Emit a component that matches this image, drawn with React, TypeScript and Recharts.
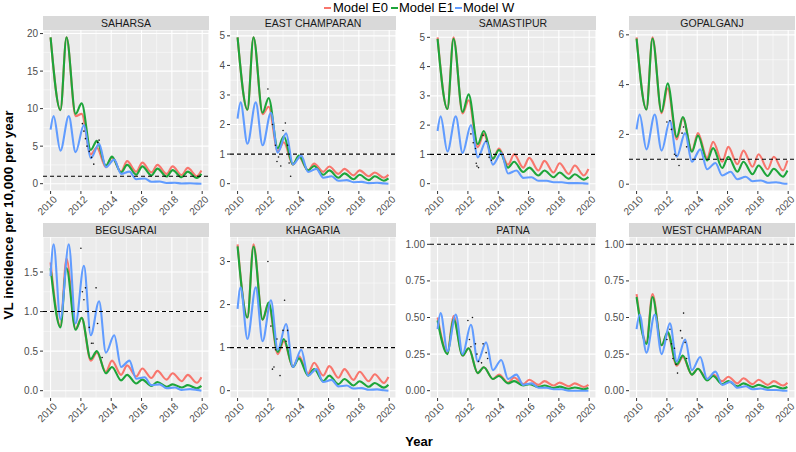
import React from 'react';
import { ComposedChart, Line, XAxis, YAxis, CartesianGrid, ReferenceLine } from 'recharts';

// sample times: E models peak early in the year, W a bit later; all dip mid-year
const E_TIMES = [2010.0, 2010.65, 2011.05, 2011.65, 2012.05, 2012.65, 2013.05, 2013.65, 2014.05, 2014.65, 2015.05, 2015.65, 2016.05, 2016.65, 2017.05, 2017.65, 2018.05, 2018.65, 2019.05, 2019.65, 2019.95];
const W_TIMES = [2010.0, 2010.2, 2010.65, 2011.2, 2011.65, 2012.2, 2012.65, 2013.2, 2013.65, 2014.2, 2014.65, 2015.2, 2015.65, 2016.2, 2016.65, 2017.2, 2017.65, 2018.2, 2018.65, 2019.2, 2019.65, 2019.95];
const YEAR_TICKS = [2010, 2012, 2014, 2016, 2018, 2020];
const YEAR_MINOR = [2011, 2013, 2015, 2017, 2019];

const SAHARSA_E0 = [19.5, 9.8, 19.5, 9.0, 9.3, 3.9, 4.8, 2.2, 3.5, 1.6, 3.0, 1.6, 2.8, 1.5, 2.5, 1.3, 2.3, 1.15, 2.1, 1.0, 1.75];
const SAHARSA_E1 = [19.5, 9.8, 19.5, 9.3, 10.7, 4.5, 5.7, 2.4, 3.6, 1.5, 2.5, 1.2, 2.3, 1.1, 2.0, 0.95, 1.8, 0.85, 1.6, 0.75, 1.3];
const SAHARSA_W = [7.2, 9.0, 4.4, 9.0, 4.2, 7.8, 3.4, 5.3, 2.2, 3.2, 1.3, 1.6, 0.6, 0.7, 0.25, 0.3, 0.1, 0.12, 0.03, 0.05, 0.01, 0.0];
const SAHARSA_OBS = [[2012.1, 8.0], [2012.2, 7.0], [2012.3, 6.0], [2012.4, 5.0], [2012.55, 4.3], [2012.7, 3.5], [2012.85, 2.6], [2013.1, 5.5], [2013.2, 5.8]];

const EAST_E0 = [4.95, 2.5, 4.95, 2.35, 2.6, 1.1, 1.4, 0.65, 0.9, 0.45, 0.68, 0.4, 0.58, 0.33, 0.5, 0.28, 0.45, 0.25, 0.38, 0.2, 0.3];
const EAST_E1 = [4.95, 2.5, 4.95, 2.4, 2.9, 1.2, 1.6, 0.65, 0.95, 0.45, 0.6, 0.3, 0.45, 0.2, 0.35, 0.15, 0.3, 0.12, 0.25, 0.1, 0.18];
const EAST_W = [2.2, 2.75, 1.35, 2.75, 1.3, 2.4, 1.05, 1.7, 0.65, 0.95, 0.4, 0.5, 0.2, 0.25, 0.1, 0.12, 0.05, 0.06, 0.02, 0.03, 0.01, 0.0];
const EAST_OBS = [[2012.0, 3.2], [2012.3, 2.0], [2012.5, 1.3], [2012.6, 0.75], [2012.7, 0.9], [2012.85, 0.6], [2013.0, 1.8], [2013.15, 2.05], [2013.3, 1.3], [2013.4, 0.7], [2013.5, 0.25]];

const SAMA_E0 = [5.0, 2.55, 5.0, 2.4, 2.85, 1.25, 1.7, 0.85, 1.2, 0.65, 1.0, 0.55, 0.88, 0.45, 0.78, 0.38, 0.7, 0.33, 0.62, 0.28, 0.5];
const SAMA_E1 = [4.95, 2.55, 4.95, 2.45, 3.05, 1.35, 1.8, 0.85, 1.15, 0.55, 0.75, 0.4, 0.55, 0.28, 0.45, 0.22, 0.38, 0.17, 0.32, 0.14, 0.23];
const SAMA_W = [1.8, 2.3, 1.1, 2.3, 1.05, 2.0, 0.9, 1.45, 0.65, 1.05, 0.35, 0.45, 0.2, 0.22, 0.1, 0.1, 0.05, 0.05, 0.02, 0.02, 0.01, 0.0];
const SAMA_OBS = [[2012.2, 1.7], [2012.35, 1.4], [2012.5, 1.2], [2012.55, 0.7], [2012.6, 0.6], [2012.7, 0.55], [2013.0, 1.65], [2013.2, 1.45], [2013.4, 0.9], [2013.55, 0.8]];

const GOPAL_E0 = [5.9, 3.0, 5.9, 2.85, 3.85, 1.8, 2.65, 1.35, 2.05, 1.05, 1.7, 0.9, 1.5, 0.8, 1.35, 0.7, 1.2, 0.6, 1.1, 0.55, 0.95];
const GOPAL_E1 = [5.85, 3.0, 5.85, 2.9, 4.05, 1.9, 2.7, 1.3, 1.95, 0.95, 1.45, 0.65, 1.1, 0.5, 0.9, 0.4, 0.75, 0.33, 0.62, 0.3, 0.55];
const GOPAL_W = [2.2, 2.8, 1.4, 2.8, 1.35, 2.55, 1.1, 2.05, 0.9, 1.4, 0.6, 0.85, 0.35, 0.5, 0.2, 0.3, 0.12, 0.15, 0.06, 0.08, 0.03, 0.02];
const GOPAL_OBS = [[2012.0, 2.5], [2012.2, 2.55], [2012.3, 2.2], [2012.5, 1.2], [2012.6, 1.15], [2012.7, 1.0], [2012.8, 0.75], [2013.0, 2.05], [2013.1, 2.3], [2013.3, 1.5]];

const BEGU_E0 = [1.62, 0.82, 1.67, 0.78, 0.92, 0.38, 0.48, 0.24, 0.38, 0.2, 0.32, 0.18, 0.28, 0.16, 0.25, 0.14, 0.22, 0.12, 0.2, 0.1, 0.17];
const BEGU_E1 = [1.55, 0.8, 1.55, 0.77, 0.92, 0.4, 0.5, 0.22, 0.3, 0.13, 0.2, 0.09, 0.14, 0.06, 0.11, 0.05, 0.08, 0.04, 0.07, 0.03, 0.06];
const BEGU_W = [1.45, 1.85, 0.9, 1.85, 0.85, 1.58, 0.7, 1.13, 0.48, 0.7, 0.3, 0.38, 0.15, 0.17, 0.07, 0.08, 0.03, 0.04, 0.01, 0.02, 0.01, 0.0];
const BEGU_OBS = [[2012.0, 1.8], [2012.1, 1.25], [2012.2, 1.15], [2012.3, 1.3], [2012.4, 1.0], [2012.55, 0.8], [2012.7, 0.6], [2012.8, 0.6], [2013.0, 1.3], [2013.1, 0.85], [2013.4, 0.42]];

const KHAG_E0 = [3.4, 1.7, 3.4, 1.65, 2.0, 0.85, 1.15, 0.55, 0.8, 0.4, 0.65, 0.35, 0.57, 0.3, 0.5, 0.25, 0.44, 0.22, 0.38, 0.18, 0.32];
const KHAG_E1 = [3.35, 1.7, 3.35, 1.65, 2.05, 0.9, 1.2, 0.55, 0.75, 0.35, 0.5, 0.22, 0.35, 0.15, 0.27, 0.12, 0.22, 0.09, 0.18, 0.07, 0.14];
const KHAG_W = [1.9, 2.4, 1.2, 2.4, 1.15, 2.1, 0.95, 1.55, 0.55, 0.95, 0.35, 0.5, 0.2, 0.25, 0.1, 0.12, 0.05, 0.06, 0.02, 0.03, 0.01, 0.0];
const KHAG_OBS = [[2012.0, 3.0], [2012.2, 1.5], [2012.3, 0.5], [2012.4, 0.55], [2012.5, 0.95], [2012.6, 1.2], [2012.8, 0.35], [2013.0, 1.4], [2013.1, 2.1], [2013.2, 1.15], [2013.3, 1.4]];

const PATNA_E0 = [0.5, 0.26, 0.51, 0.24, 0.29, 0.12, 0.16, 0.08, 0.11, 0.055, 0.09, 0.045, 0.075, 0.04, 0.065, 0.035, 0.055, 0.03, 0.05, 0.025, 0.04];
const PATNA_E1 = [0.48, 0.25, 0.49, 0.24, 0.29, 0.12, 0.16, 0.08, 0.1, 0.05, 0.065, 0.035, 0.045, 0.025, 0.035, 0.018, 0.028, 0.013, 0.022, 0.01, 0.018];
const PATNA_W = [0.42, 0.53, 0.27, 0.52, 0.25, 0.45, 0.2, 0.33, 0.14, 0.21, 0.08, 0.11, 0.04, 0.05, 0.02, 0.02, 0.01, 0.01, 0.0, 0.0, 0.0, 0.0];
const PATNA_OBS = [[2012.0, 0.48], [2012.1, 0.35], [2012.2, 0.3], [2012.3, 0.5], [2012.5, 0.32], [2012.6, 0.25], [2012.7, 0.2], [2012.9, 0.19], [2013.0, 0.32], [2013.2, 0.26], [2013.3, 0.22]];

const WEST_E0 = [0.66, 0.33, 0.66, 0.31, 0.39, 0.17, 0.23, 0.11, 0.15, 0.08, 0.11, 0.065, 0.095, 0.05, 0.085, 0.045, 0.075, 0.04, 0.065, 0.035, 0.055];
const WEST_E1 = [0.64, 0.32, 0.64, 0.31, 0.4, 0.18, 0.24, 0.11, 0.15, 0.07, 0.1, 0.045, 0.065, 0.03, 0.05, 0.025, 0.04, 0.02, 0.032, 0.015, 0.025];
const WEST_W = [0.42, 0.52, 0.26, 0.52, 0.25, 0.46, 0.2, 0.35, 0.14, 0.23, 0.08, 0.13, 0.04, 0.06, 0.02, 0.03, 0.01, 0.015, 0.005, 0.005, 0.0, 0.0];
const WEST_OBS = [[2012.0, 0.35], [2012.2, 0.42], [2012.3, 0.32], [2012.4, 0.22], [2012.5, 0.29], [2012.6, 0.18], [2012.7, 0.12], [2012.9, 0.41], [2013.0, 0.36], [2013.1, 0.53], [2013.2, 0.33], [2013.3, 0.22]];

const THRESHOLD = 1;

const PANELS = [
  { name: 'SAHARSA', e0: SAHARSA_E0, e1: SAHARSA_E1, w: SAHARSA_W, obs: SAHARSA_OBS, ticks: [0, 5, 10, 15, 20], dec: 0 },
  { name: 'EAST CHAMPARAN', e0: EAST_E0, e1: EAST_E1, w: EAST_W, obs: EAST_OBS, ticks: [0, 1, 2, 3, 4, 5], dec: 0 },
  { name: 'SAMASTIPUR', e0: SAMA_E0, e1: SAMA_E1, w: SAMA_W, obs: SAMA_OBS, ticks: [0, 1, 2, 3, 4, 5], dec: 0 },
  { name: 'GOPALGANJ', e0: GOPAL_E0, e1: GOPAL_E1, w: GOPAL_W, obs: GOPAL_OBS, ticks: [0, 2, 4, 6], dec: 0 },
  { name: 'BEGUSARAI', e0: BEGU_E0, e1: BEGU_E1, w: BEGU_W, obs: BEGU_OBS, ticks: [0, 0.5, 1, 1.5], dec: 1 },
  { name: 'KHAGARIA', e0: KHAG_E0, e1: KHAG_E1, w: KHAG_W, obs: KHAG_OBS, ticks: [0, 1, 2, 3], dec: 0 },
  { name: 'PATNA', e0: PATNA_E0, e1: PATNA_E1, w: PATNA_W, obs: PATNA_OBS, ticks: [0, 0.25, 0.5, 0.75, 1], dec: 2 },
  { name: 'WEST CHAMPARAN', e0: WEST_E0, e1: WEST_E1, w: WEST_W, obs: WEST_OBS, ticks: [0, 0.25, 0.5, 0.75, 1], dec: 2 },
];

const COL_LEFT = [43, 230, 430, 629];
const ROW_TOP = [30, 237];
const PLOT_W = 166;
const PLOT_H = 161;
const Y_W = 30;
const X_H = 34;
const PAD_T = 8;
const FONT = '"Liberation Sans", Arial, Helvetica, sans-serif';

const C_E0 = '#F8766D';
const C_E1 = '#1DA53A';
const C_W = '#619CFF';

const XTick = ({ x, y, payload }: any) => (
  <text x={x + 2} y={y - 1} transform={`rotate(-45 ${x + 2} ${y - 1})`} textAnchor="end" dy="0.71em"
    fontSize={10} fill="#4D4D4D" fontFamily={FONT}>{payload.value}</text>
);

function Panel({ p, left, top }: any) {
  const all = [...p.e0, ...p.e1, ...p.w, ...p.obs.map((o: number[]) => o[1]), THRESHOLD];
  const mn = Math.min(...all);
  const mx = Math.max(...all);
  const pad = (mx - mn) * 0.05;
  const domain = [mn - pad, mx + pad];
  const step = p.ticks[1] - p.ticks[0];
  const minorY: number[] = [];
  for (let v = p.ticks[0] - step / 2; v <= p.ticks[p.ticks.length - 1] + step; v += step) {
    if (v > domain[0] && v < domain[1]) minorY.push(v);
  }
  const e0 = p.e0.map((v: number, i: number) => ({ t: E_TIMES[i], v }));
  const e1 = p.e1.map((v: number, i: number) => ({ t: E_TIMES[i], v }));
  const w = p.w.map((v: number, i: number) => ({ t: W_TIMES[i], v }));
  const obs = p.obs.map((o: number[]) => ({ t: o[0], v: o[1] }));
  // keep the svg inside the 796px page
  const padR = Math.max(0, Math.min(10, 796 - (left + PLOT_W)));

  return (
    <>
      <div style={{ position: 'absolute', left: left - Y_W, top: top - PAD_T }}>
        <ComposedChart width={Y_W + PLOT_W + padR} height={PLOT_H + X_H + PAD_T}
          margin={{ top: PAD_T, right: padR, left: 0, bottom: 0 }}>
          <CartesianGrid fill="#EBEBEB" stroke="#FFFFFF" strokeWidth={1.1} />
          {minorY.map((v) => (
            <ReferenceLine key={'my' + v} y={v} stroke="#FFFFFF" strokeWidth={0.5} />
          ))}
          {YEAR_MINOR.map((v) => (
            <ReferenceLine key={'mx' + v} x={v} stroke="#FFFFFF" strokeWidth={0.5} />
          ))}
          <XAxis type="number" dataKey="t" domain={[2009.5, 2020.45]} ticks={YEAR_TICKS} allowDataOverflow
            axisLine={false} tickSize={3} tickLine={{ stroke: '#333333' }} height={X_H} tick={<XTick />} interval={0} />
          <YAxis type="number" dataKey="v" domain={domain} ticks={p.ticks} allowDataOverflow width={Y_W}
            axisLine={false} tickSize={3} tickMargin={2} tickLine={{ stroke: '#333333' }} interval={0}
            tickFormatter={(v: number) => v.toFixed(p.dec)}
            tick={{ fontSize: 10, fill: '#4D4D4D', fontFamily: FONT }} />
          <Line data={e0} dataKey="v" type="monotone" stroke={C_E0} strokeWidth={2.1} dot={false} isAnimationActive={false} />
          <Line data={e1} dataKey="v" type="monotone" stroke={C_E1} strokeWidth={2.1} dot={false} isAnimationActive={false} />
          <Line data={w} dataKey="v" type="monotone" stroke={C_W} strokeWidth={2.1} dot={false} isAnimationActive={false} />
          <Line data={obs} dataKey="v" stroke="none" isAnimationActive={false}
            dot={{ r: 0.8, fill: '#111111', stroke: 'none' }} />
          <ReferenceLine y={THRESHOLD} stroke="#000000" strokeWidth={1.1} strokeDasharray="4 3" />
        </ComposedChart>
      </div>
      <div style={{
        position: 'absolute', left, top: top - 14, width: PLOT_W, height: 14, background: '#D9D9D9',
        textAlign: 'center', fontSize: 10.5, lineHeight: '14px', color: '#1A1A1A', fontFamily: FONT,
      }}>{p.name}</div>
    </>
  );
}

const LEGEND = [
  { label: 'Model E0', color: C_E0, key: 324, text: 333 },
  { label: 'Model E1', color: C_E1, key: 391, text: 399 },
  { label: 'Model W', color: C_W, key: 455, text: 463 },
];

export default function App() {
  return (
    <div style={{ position: 'relative', width: 796, height: 452, background: '#FFFFFF', fontFamily: FONT, overflow: 'hidden' }}>
      <style>{'body{margin:0}'}</style>
      {LEGEND.map((l) => (
        <React.Fragment key={l.label}>
          <div style={{ position: 'absolute', left: l.key, top: 7, width: 7, height: 2, background: l.color }} />
          <div style={{ position: 'absolute', left: l.text, top: 0, fontSize: 13, lineHeight: '16px', color: '#000' }}>{l.label}</div>
        </React.Fragment>
      ))}
      {PANELS.map((p, i) => (
        <Panel key={p.name} p={p} left={COL_LEFT[i % 4]} top={ROW_TOP[Math.floor(i / 4)]} />
      ))}
      <div style={{
        position: 'absolute', left: 9 - 150, top: 215 - 10, width: 300, height: 20, lineHeight: '20px',
        textAlign: 'center', fontSize: 13.5, fontWeight: 'bold', transform: 'rotate(-90deg)', color: '#000',
      }}>VL incidence per 10,000 per year</div>
      <div style={{
        position: 'absolute', left: 43, width: 752, top: 434, textAlign: 'center', fontSize: 13,
        fontWeight: 'bold', lineHeight: '15px', color: '#000',
      }}>Year</div>
    </div>
  );
}
